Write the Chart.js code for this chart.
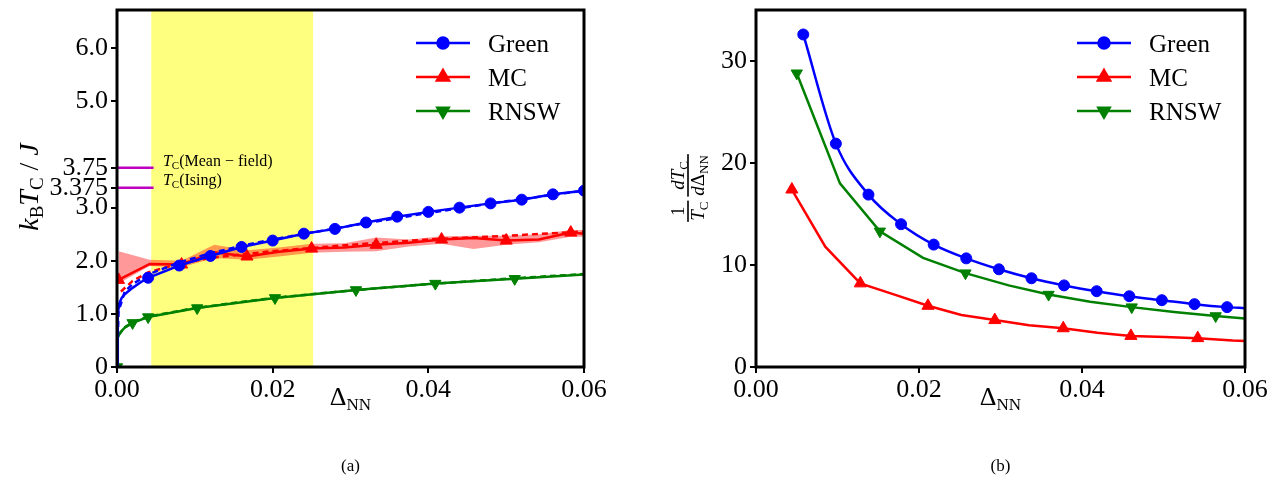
<!DOCTYPE html>
<html>
<head>
<meta charset="utf-8">
<script src="https://cdn.jsdelivr.net/npm/chart.js@4.4.0/dist/chart.umd.min.js"></script>
<style>
body { margin: 0; background: #fff; width: 1276px; height: 480px; overflow: hidden; }
.wrap { position: absolute; top: 0; width: 638px; height: 480px; }
</style>
</head>
<body>
<div class="wrap" style="left:0"><canvas id="left"></canvas></div>
<div class="wrap" style="left:638px"><canvas id="right"></canvas></div>
<script>
// ---- panel (a): k_B T_C / J vs Delta_NN ----
const greenLX = [0, 0.0001, 0.0003, 0.0006, 0.001, 0.002, 0.003, 0.004, 0.008, 0.012, 0.016, 0.020, 0.024, 0.028, 0.032, 0.036, 0.040, 0.044, 0.048, 0.052, 0.056, 0.060];
const greenLY = [0, 1.0, 1.2, 1.3, 1.37, 1.49, 1.59, 1.68, 1.91, 2.09, 2.26, 2.38, 2.51, 2.60, 2.72, 2.83, 2.92, 3.00, 3.08, 3.15, 3.25, 3.32];
const greenFitLX = [0, 0.0002, 0.001, 0.002, 0.004, 0.008, 0.012, 0.016, 0.020, 0.030, 0.040, 0.050, 0.060];
const greenFitLY = [0, 1.05, 1.42, 1.56, 1.74, 1.97, 2.14, 2.28, 2.40, 2.66, 2.90, 3.12, 3.32];

const mcLX = [0.0002, 0.0042, 0.0083, 0.0125, 0.0167, 0.0208, 0.025, 0.0292, 0.0333, 0.0375, 0.0417, 0.0458, 0.05, 0.0542, 0.0583, 0.06];
const mcLY = [1.64, 1.94, 1.93, 2.16, 2.08, 2.17, 2.23, 2.25, 2.30, 2.34, 2.40, 2.43, 2.38, 2.40, 2.53, 2.51];
const mcLo = [1.57, 1.90, 1.88, 2.05, 2.02, 2.08, 2.15, 2.17, 2.18, 2.27, 2.32, 2.22, 2.30, 2.35, 2.45, 2.45];
const mcHi = [2.18, 2.02, 2.00, 2.30, 2.20, 2.25, 2.32, 2.33, 2.44, 2.40, 2.46, 2.47, 2.47, 2.50, 2.58, 2.58];
const mcFitLX = [0.0005, 0.002, 0.004, 0.008, 0.012, 0.016, 0.020, 0.030, 0.040, 0.050, 0.060];
const mcFitLY = [1.42, 1.62, 1.78, 1.95, 2.05, 2.12, 2.18, 2.30, 2.40, 2.47, 2.55];

const rnswLX = [0, 0.0001, 0.0003, 0.0006, 0.001, 0.002, 0.004, 0.0103, 0.0203, 0.0307, 0.0409, 0.0511, 0.06];
const rnswLY = [0, 0.55, 0.62, 0.68, 0.74, 0.83, 0.94, 1.11, 1.30, 1.45, 1.57, 1.66, 1.74];
const rnswFitLX = [0.0002, 0.001, 0.002, 0.004, 0.01, 0.02, 0.03, 0.04, 0.05, 0.06];
const rnswFitLY = [0.6, 0.75, 0.84, 0.95, 1.11, 1.30, 1.44, 1.56, 1.66, 1.75];

const tcMeanField = 3.75;
const tcIsing = 3.375;
const refLineEnd = 0.0047;
const bandStart = 0.0044;
const bandEnd = 0.0252;

const leftYTicks = [0, 1, 2, 3, 3.375, 3.75, 5, 6];
const leftYLabels = ['0', '1.0', '2.0', '3.0', '3.375', '3.75', '5.0', '6.0'];
const xTicks = [0, 0.02, 0.04, 0.06];
const xLabels = ['0.00', '0.02', '0.04', '0.06'];

// ---- panel (b): (1/T_C) dT_C/dDelta_NN ----
const greenRX = [0.0058, 0.0098, 0.0138, 0.0178, 0.0218, 0.0258, 0.0298, 0.0338, 0.0378, 0.0418, 0.0458, 0.0498, 0.0538, 0.0578, 0.06];
const greenRY = [32.6, 21.9, 16.9, 14.0, 12.0, 10.65, 9.58, 8.7, 8.0, 7.43, 6.94, 6.55, 6.16, 5.87, 5.77];
const mcRX = [0.0044, 0.0085, 0.0128, 0.017, 0.0211, 0.0252, 0.0293, 0.0335, 0.0377, 0.0419, 0.046, 0.0502, 0.0542, 0.0585, 0.06];
const mcRY = [17.4, 11.8, 8.2, 7.1, 6.0, 5.1, 4.6, 4.1, 3.8, 3.35, 3.05, 2.95, 2.83, 2.6, 2.55];
const rnswRX = [0.005, 0.0103, 0.0152, 0.0205, 0.0257, 0.031, 0.0359, 0.041, 0.0461, 0.0513, 0.0564, 0.06];
const rnswRY = [28.8, 18.0, 13.3, 10.7, 9.2, 8.0, 7.1, 6.4, 5.87, 5.4, 5.0, 4.75];
const rightYTicks = [0, 10, 20, 30];
const rightYLabels = ['0', '10', '20', '30'];

const seriesNames = ['Green', 'MC', 'RNSW'];

const BLUE = '#0000ff', RED = '#ff0000', GREEN = '#008000', MAGENTA = '#bf00bf';
const FAM = '"Liberation Serif", "DejaVu Serif", serif';

function pts(xs, ys) { return xs.map((x, i) => ({ x: x, y: ys[i] })); }
function marks(n, idx, r) { const a = new Array(n).fill(0); idx.forEach(i => { if (i < n) a[i] = r; }); return a; }
function range(a, b, step) { const out = []; for (let i = a; i <= b; i += step) out.push(i); return out; }

function line(xs, ys, color, opts) {
  return Object.assign({
    data: pts(xs, ys), showLine: true, borderColor: color, backgroundColor: color,
    borderWidth: 2.5, pointRadius: 0, pointBorderWidth: 1, tension: 0
  }, opts || {});
}

function font(size, it) { return (it ? 'italic ' : '') + size + 'px ' + FAM; }
function runsWidth(ctx, runs) {
  let w = 0;
  runs.forEach(r => { ctx.font = font(r.s, r.i); w += ctx.measureText(r.t).width; });
  return w;
}
function drawRuns(ctx, runs, x, y) {
  ctx.textBaseline = 'alphabetic'; ctx.textAlign = 'left';
  runs.forEach(r => { ctx.font = font(r.s, r.i); ctx.fillText(r.t, x, y + (r.d || 0)); x += ctx.measureText(r.t).width; });
  return x;
}
function drawFrac(ctx, num, den, x, mid) {
  const wn = runsWidth(ctx, num), wd = runsWidth(ctx, den), w = Math.max(wn, wd) + 2;
  drawRuns(ctx, num, x + (w - wn) / 2, mid - 4);
  drawRuns(ctx, den, x + (w - wd) / 2, mid + 16);
  ctx.fillRect(x, mid - 0.8, w, 1.6);
  return w;
}

function makeFrame(panel, drawTitle) {
  return {
    id: 'frame',
    afterDraw(chart) {
      const { ctx, chartArea: a } = chart;
      ctx.save();
      ctx.strokeStyle = '#000'; ctx.lineWidth = 3;
      ctx.strokeRect(a.left, a.top, a.right - a.left, a.bottom - a.top);
      ctx.fillStyle = '#000';
      // x-axis title
      const xt = [{ t: 'Δ', s: 26 }, { t: 'NN', s: 17, d: 5 }];
      const cx = (a.left + a.right) / 2;
      drawRuns(ctx, xt, cx - runsWidth(ctx, xt) / 2, 405);
      // panel letter
      const lab = [{ t: panel, s: 17 }];
      drawRuns(ctx, lab, cx - runsWidth(ctx, lab) / 2, 471);
      // legend
      const styles = [['circle', 0, 5.5, BLUE], ['triangle', 0, 7, RED], ['triangle', 180, 6.5, GREEN]];
      seriesNames.forEach((name, i) => {
        const y = a.top + 33 + i * 34;
        const x0 = a.right - 168, x1 = a.right - 114;
        ctx.strokeStyle = styles[i][3]; ctx.fillStyle = styles[i][3]; ctx.lineWidth = 2.5;
        ctx.beginPath(); ctx.moveTo(x0, y); ctx.lineTo(x1, y); ctx.stroke();
        Chart.helpers.drawPoint(ctx, { pointStyle: styles[i][0], rotation: styles[i][1], radius: styles[i][2], borderWidth: 1 }, (x0 + x1) / 2, y);
        ctx.fillStyle = '#000';
        drawRuns(ctx, [{ t: name, s: 25 }], a.right - 96, y + 9);
      });
      ctx.fillStyle = '#000';
      drawTitle(ctx);
      ctx.restore();
    }
  };
}

const band = {
  id: 'band',
  beforeDatasetsDraw(chart) {
    const { ctx, chartArea: a, scales: { x } } = chart;
    const x0 = x.getPixelForValue(bandStart), x1 = x.getPixelForValue(bandEnd);
    ctx.save();
    ctx.fillStyle = 'rgba(255,255,0,0.5)';
    ctx.fillRect(x0, a.top, x1 - x0, a.bottom - a.top);
    ctx.restore();
  },
  afterDatasetsDraw(chart) {
    const { ctx, scales: { x, y } } = chart;
    ctx.save();
    ctx.fillStyle = '#000';
    const px = x.getPixelForValue(0.0059);
    drawRuns(ctx, [{ t: 'T', s: 16, i: 1 }, { t: 'C', s: 11, d: 3 }, { t: '(Mean − field)', s: 16 }], px, y.getPixelForValue(tcMeanField) - 2);
    drawRuns(ctx, [{ t: 'T', s: 16, i: 1 }, { t: 'C', s: 11, d: 3 }, { t: '(Ising)', s: 16 }], px, y.getPixelForValue(tcIsing) - 3);
    ctx.restore();
  }
};

function axes(yMax, yTicks, yLabels, yWidth) {
  const tickFont = { family: FAM, size: 26 };
  const grid = { drawOnChartArea: false, drawTicks: true, tickLength: 6, color: '#000', lineWidth: 2 };
  return {
    x: {
      type: 'linear', min: 0, max: 0.06,
      afterBuildTicks: s => { s.ticks = xTicks.map(v => ({ value: v })); },
      afterFit: s => { s.height = 113; s.paddingLeft = 0; s.paddingRight = 0; },
      ticks: { font: tickFont, color: '#000', padding: 2, maxRotation: 0, autoSkip: false,
               callback: v => xLabels[xTicks.indexOf(v)] ?? '' },
      grid: grid, border: { display: false }
    },
    y: {
      type: 'linear', min: 0, max: yMax,
      afterBuildTicks: s => { s.ticks = yTicks.map(v => ({ value: v })); },
      afterFit: s => { s.width = yWidth; s.paddingTop = 0; s.paddingBottom = 0; },
      ticks: { font: tickFont, color: '#000', padding: 3, autoSkip: false,
               callback: v => yLabels[yTicks.indexOf(v)] ?? '' },
      grid: grid, border: { display: false }
    }
  };
}

const common = {
  animation: false, responsive: true, maintainAspectRatio: false,
  plugins: { legend: { display: false }, tooltip: { enabled: false } }
};

function leftTitle(ctx) {
  const runs = [{ t: 'k', s: 28, i: 1 }, { t: 'B', s: 19, d: 5 }, { t: 'T', s: 28, i: 1 }, { t: 'C', s: 19, d: 5 }, { t: ' / ', s: 28 }, { t: 'J', s: 28, i: 1 }];
  ctx.save();
  ctx.translate(29, 187); ctx.rotate(-Math.PI / 2);
  drawRuns(ctx, runs, -runsWidth(ctx, runs) / 2, 9);
  ctx.restore();
}

function rightTitle(ctx) {
  ctx.save();
  ctx.translate(688 - 638, 188); ctx.rotate(-Math.PI / 2);
  const f1n = [{ t: '1', s: 19 }], f1d = [{ t: 'T', s: 19, i: 1 }, { t: 'C', s: 13, d: 4 }];
  const f2n = [{ t: 'dT', s: 19, i: 1 }, { t: 'C', s: 13, d: 4 }], f2d = [{ t: 'd', s: 19, i: 1 }, { t: 'Δ', s: 19 }, { t: 'NN', s: 13, d: 4 }];
  const w1 = Math.max(runsWidth(ctx, f1n), runsWidth(ctx, f1d)) + 2;
  const w2 = Math.max(runsWidth(ctx, f2n), runsWidth(ctx, f2d)) + 2;
  let x = -(w1 + 4 + w2) / 2;
  x += drawFrac(ctx, f1n, f1d, x, 0) + 4;
  drawFrac(ctx, f2n, f2d, x, 0);
  ctx.restore();
}

new Chart(document.getElementById('left'), {
  type: 'scatter',
  data: {
    datasets: [
      line([0, refLineEnd], [tcMeanField, tcMeanField], MAGENTA),
      line([0, refLineEnd], [tcIsing, tcIsing], MAGENTA),
      line(greenFitLX, greenFitLY, BLUE, { borderDash: [6, 4] }),
      line(greenLX, greenLY, BLUE, { pointRadius: marks(greenLX.length, range(7, 21, 1), 5.5), pointStyle: 'circle' }),
      line(rnswFitLX, rnswFitLY, GREEN, { borderDash: [6, 4] }),
      line(rnswLX, rnswLY, GREEN, { pointRadius: marks(rnswLX.length, [0, 5, 6, 7, 8, 9, 10, 11], 6.5), pointStyle: 'triangle', pointRotation: 180 }),
      line(mcFitLX, mcFitLY, RED, { borderDash: [6, 4] }),
      line(mcLX, mcLY, RED, { pointRadius: marks(mcLX.length, range(0, 14, 2), 7), pointStyle: 'triangle' }),
      line(mcLX, mcHi, 'rgba(255,0,0,0.4)', { borderWidth: 0 }),
      line(mcLX, mcLo, 'rgba(255,0,0,0.4)', { borderWidth: 0, fill: '-1' })
    ]
  },
  options: Object.assign({}, common, {
    layout: { padding: { top: 10, right: 54, left: 0, bottom: 0 } },
    scales: axes(6.72, leftYTicks, leftYLabels, 117)
  }),
  plugins: [band, makeFrame('(a)', leftTitle)]
});

new Chart(document.getElementById('right'), {
  type: 'scatter',
  data: {
    datasets: [
      line(greenRX, greenRY, BLUE, { pointRadius: marks(greenRX.length, range(0, 13, 1), 5.5), pointStyle: 'circle', cubicInterpolationMode: 'monotone' }),
      line(rnswRX, rnswRY, GREEN, { pointRadius: marks(rnswRX.length, range(0, 10, 2), 6.5), pointStyle: 'triangle', pointRotation: 180 }),
      line(mcRX, mcRY, RED, { pointRadius: marks(mcRX.length, range(0, 12, 2), 7), pointStyle: 'triangle' })
    ]
  },
  options: Object.assign({}, common, {
    layout: { padding: { top: 10, right: 31, left: 0, bottom: 0 } },
    scales: axes(35, rightYTicks, rightYLabels, 118)
  }),
  plugins: [makeFrame('(b)', rightTitle)]
});
</script>
</body>
</html>
